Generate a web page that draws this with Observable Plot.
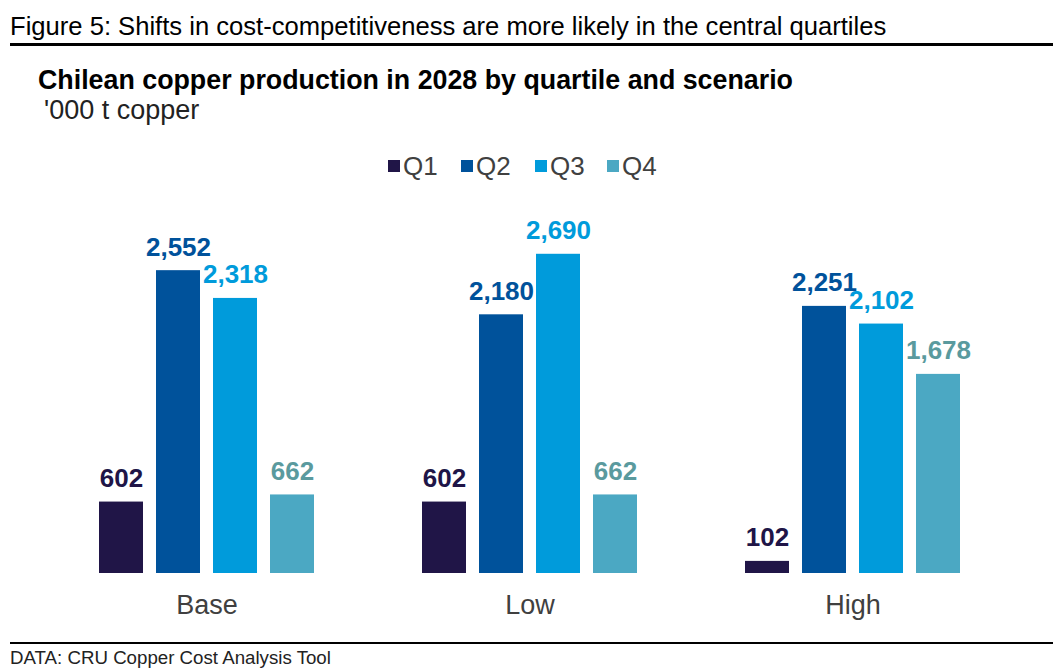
<!DOCTYPE html>
<html>
<head>
<meta charset="utf-8">
<script src="https://cdn.jsdelivr.net/npm/d3@7"></script>
<script src="https://cdn.jsdelivr.net/npm/@observablehq/plot@0.6"></script>
<style>
  html, body { margin: 0; padding: 0; background: #fff; }
  body { width: 1064px; height: 672px; position: relative; overflow: hidden; font-family: "Liberation Sans", Arial, sans-serif; color: #000; }
  .abs { position: absolute; white-space: nowrap; }
  #fig { left: 10px; top: 11px; font-size: 25.6px; line-height: 30px; }
  #rule1 { left: 10px; top: 43px; width: 1043px; height: 3px; background: #000; }
  #title { left: 38px; top: 64px; font-size: 26.8px; font-weight: bold; line-height: 32px; }
  #sub { left: 44px; top: 94px; font-size: 27px; line-height: 32px; color: #222; }
  #legend { left: 0; top: 150px; width: 1064px; height: 32px; font-size: 26px; color: #404040; }
  .sw { position: absolute; width: 12px; height: 12px; top: 10px; }
  .lt { position: absolute; top: 0; line-height: 32px; }
  #chart { left: 0; top: 190px; }
  #rule2 { left: 10px; top: 642px; width: 1043px; height: 2px; background: #000; }
  #foot { left: 10px; top: 647px; font-size: 18.7px; line-height: 22px; color: #222; }
</style>
</head>
<body>
<div class="abs" id="fig">Figure 5: Shifts in cost-competitiveness are more likely in the central quartiles</div>
<div class="abs" id="rule1"></div>
<div class="abs" id="title">Chilean copper production in 2028 by quartile and scenario</div>
<div class="abs" id="sub">'000 t copper</div>
<div class="abs" id="legend"></div>
<div class="abs" id="chart"></div>
<div class="abs" id="rule2"></div>
<div class="abs" id="foot">DATA: CRU Copper Cost Analysis Tool</div>
<script>
const scenarios = ["Base", "Low", "High"];
const quartiles = ["Q1", "Q2", "Q3", "Q4"];
const baseValues = [602, 2552, 2318, 662];
const lowValues = [602, 2180, 2690, 662];
const highValues = [102, 2251, 2102, 1678];
const barColors = ["#201547", "#00529B", "#009BDB", "#4BA8C3"];
const labelColors = ["#201547", "#00529B", "#009BDB", "#5A9A9E"];

const seriesByScenario = [baseValues, lowValues, highValues];
const data = [];
scenarios.forEach((s, i) => quartiles.forEach((q, j) => data.push({scenario: s, quartile: q, value: seriesByScenario[i][j]})));

// legend (HTML, above the SVG)
const legend = document.getElementById("legend");
const legendLeft = [388, 461, 535, 607];
quartiles.forEach((q, j) => {
  const sw = document.createElement("span");
  sw.className = "sw";
  sw.style.left = legendLeft[j] + "px";
  sw.style.background = barColors[j];
  const t = document.createElement("span");
  t.className = "lt";
  t.style.left = (legendLeft[j] + 15) + "px";
  t.textContent = q;
  legend.appendChild(sw);
  legend.appendChild(t);
});

const chart = Plot.plot({
  width: 1064,
  height: 445,
  marginTop: 27,
  marginBottom: 62,
  marginLeft: 84,
  marginRight: 89,
  style: {fontFamily: "Liberation Sans, Arial, sans-serif", background: "transparent"},
  fx: {domain: scenarios, paddingInner: 0.247, paddingOuter: 0, label: null},
  x: {domain: quartiles, padding: 0.235, axis: null},
  y: {domain: [0, 3000], axis: null},
  color: {domain: quartiles, range: barColors},
  marks: [
    Plot.barY(data, {fx: "scenario", x: "quartile", y: "value", fill: "quartile"}),
    Plot.text(data, {
      fx: "scenario", x: "quartile", y: "value",
      text: d => d3.format(",")(d.value),
      fill: d => labelColors[quartiles.indexOf(d.quartile)],
      lineAnchor: "bottom", dy: -15,
      fontSize: 26, fontWeight: "bold"
    }),
    Plot.axisFx({anchor: "bottom", tickSize: 0, tickPadding: 21, fontSize: 27, color: "#404040", label: null})
  ]
});
document.getElementById("chart").appendChild(chart);
</script>
</body>
</html>
